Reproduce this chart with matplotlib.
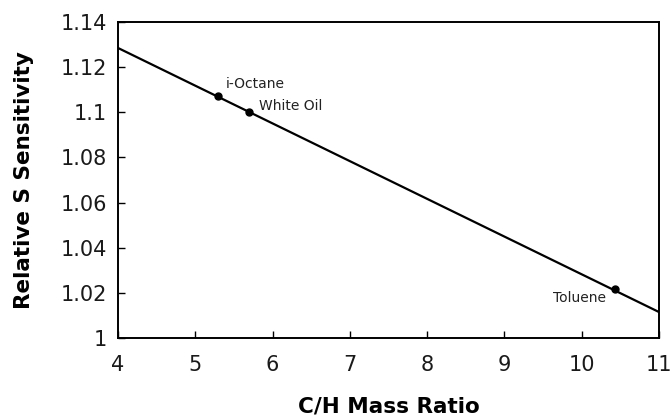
import matplotlib
matplotlib.use("Agg")
import matplotlib.pyplot as plt
import numpy as np

# fitted line end points
line_x = [4, 11]
line_y = [1.1285, 1.0115]

# measured compounds
names = ["i-Octane", "White Oil", "Toluene"]
ch_ratio = [5.3, 5.7, 10.43]
sensitivity = [1.107, 1.100, 1.0215]

xticks = [4, 5, 6, 7, 8, 9, 10, 11]
yticks = [1, 1.02, 1.04, 1.06, 1.08, 1.1, 1.12, 1.14]
yticklabels = ["1", "1.02", "1.04", "1.06", "1.08", "1.1", "1.12", "1.14"]

plt.rcParams["font.family"] = ["DejaVu Sans"]

fig = plt.figure(figsize=(6.72, 4.16), dpi=100)
ax = fig.add_axes([118 / 672, 1 - 338 / 416, (659 - 118) / 672, (338 - 22) / 416])

ax.plot(line_x, line_y, color="black", lw=1.6)
ax.plot(ch_ratio, sensitivity, "o", color="black", ms=5)

# label placement (offset points, alignment)
label_style = [((5.5, 9), "left"), ((7, 4.5), "left"), ((-6.5, -6), "right")]
for n, x, y, (off, ha) in zip(names, ch_ratio, sensitivity, label_style):
    ax.annotate(n, (x, y), xytext=off, textcoords="offset points", fontsize=10,
                color="#222222", ha=ha, va="center")

ax.set_xlim(4, 11)
ax.set_ylim(1, 1.14)
ax.set_xticks(xticks)
ax.set_yticks(yticks)
ax.set_yticklabels(yticklabels)
ax.tick_params(direction="in", length=5, width=1, labelsize=15, labelcolor="#1a1a1a")
ax.tick_params(axis="x", pad=12)
ax.tick_params(axis="y", pad=8)
for s in ax.spines.values():
    s.set_linewidth(1.4)

ax.set_xlabel("C/H Mass Ratio", fontsize=15.5, fontweight="bold", labelpad=16)
ax.set_ylabel("Relative S Sensitivity", fontsize=15.5, fontweight="bold", labelpad=19)

fig.savefig("out.png", dpi=100)
